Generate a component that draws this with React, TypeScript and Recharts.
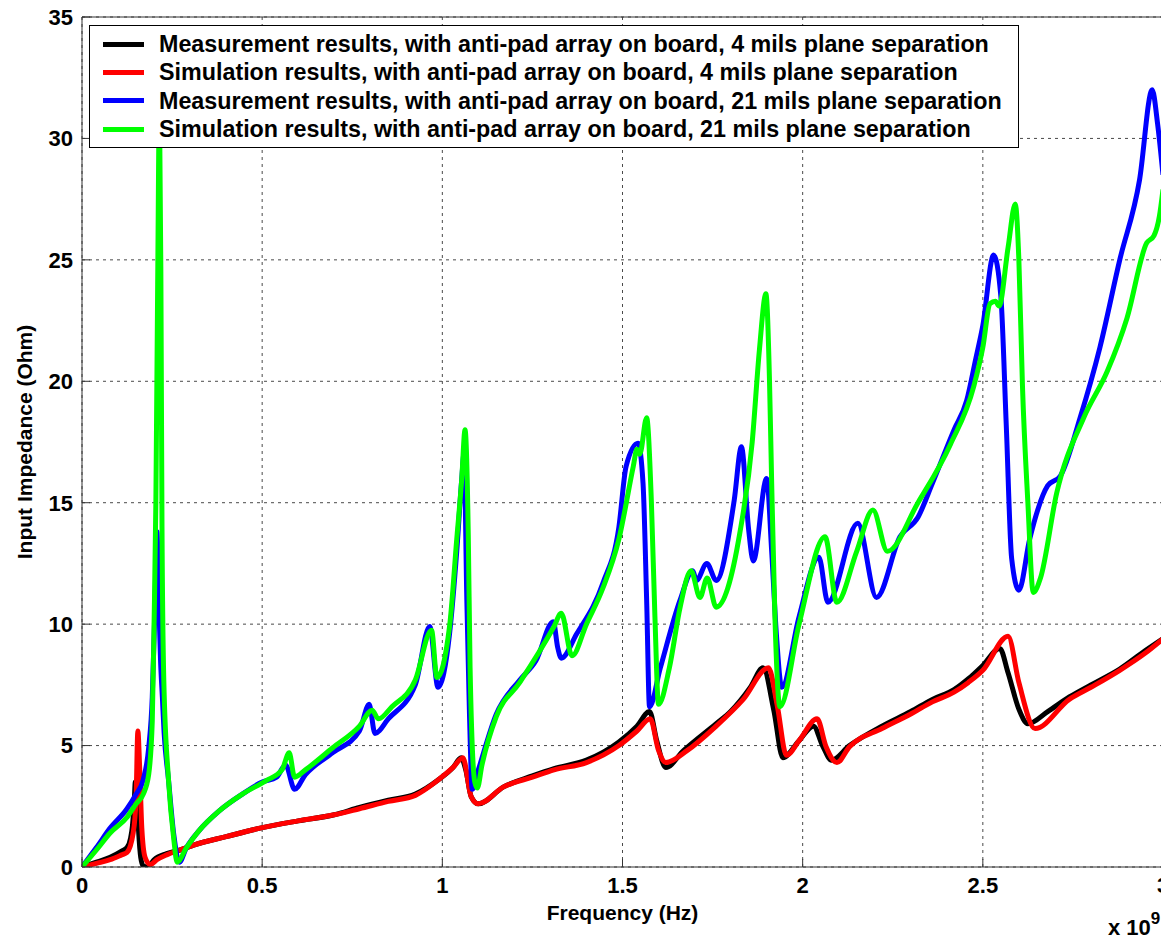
import React from "react";
import {
  LineChart,
  Line,
  XAxis,
  YAxis,
  CartesianGrid,
  Legend,
  Label,
  ReferenceLine,
} from "recharts";

// frequency in units of 1e9 Hz, impedance in Ohm

const meas4Freq = [
  0, 0.04, 0.078, 0.11, 0.125, 0.135, 0.14, 0.145, 0.148, 0.152, 0.157, 0.163, 0.17, 0.18, 0.19, 0.2,
  0.235, 0.272, 0.31, 0.4, 0.494, 0.6, 0.7, 0.77, 0.85, 0.925, 0.99, 1.03, 1.052, 1.065, 1.08, 1.1,
  1.17, 1.25, 1.31, 1.4, 1.49, 1.54, 1.575, 1.595, 1.62, 1.67, 1.76, 1.8, 1.855, 1.89, 1.92, 1.945,
  1.99, 2.03, 2.055, 2.08, 2.13, 2.22, 2.3, 2.36, 2.42, 2.46, 2.5, 2.547, 2.57, 2.6, 2.625, 2.68,
  2.74, 2.8, 2.88, 2.95, 3.0,
];
const meas4Z = [
  0, 0.2, 0.4, 0.65, 0.8, 1.2, 1.7, 2.7, 3.5, 3.0, 1.5, 0.4, 0.05, 0.0, 0.1, 0.3,
  0.55, 0.7, 0.9, 1.25, 1.6, 1.9, 2.15, 2.45, 2.75, 3.0, 3.6, 4.1, 4.5, 4.0, 2.9, 2.6,
  3.3, 3.75, 4.05, 4.4, 5.15, 5.8, 6.4, 5.2, 4.1, 4.8, 5.9, 6.4, 7.4, 8.2, 6.45, 4.5,
  5.2, 5.8, 5.0, 4.4, 5.0, 5.8, 6.4, 6.9, 7.3, 7.75, 8.3, 9.0, 8.0, 6.5, 5.9, 6.4,
  7.0, 7.5, 8.15, 8.9, 9.4,
];

const sim4Freq = [
  0, 0.04, 0.078, 0.11, 0.125, 0.142, 0.15, 0.155, 0.16, 0.166, 0.175, 0.189, 0.208, 0.235, 0.272, 0.31,
  0.4, 0.494, 0.6, 0.7, 0.77, 0.85, 0.925, 0.99, 1.03, 1.057, 1.08, 1.1, 1.17, 1.25, 1.31, 1.4,
  1.49, 1.54, 1.577, 1.6, 1.62, 1.68, 1.76, 1.835, 1.905, 1.93, 1.955, 1.99, 2.04, 2.065, 2.095, 2.13,
  2.22, 2.3, 2.36, 2.42, 2.46, 2.5, 2.57, 2.6, 2.645, 2.74, 2.8, 2.88, 2.95, 3.0,
];
const sim4Z = [
  0, 0.15, 0.3, 0.5, 0.6, 1.4, 2.8, 5.6, 4.1, 1.6, 0.4, 0.1, 0.3, 0.5, 0.7, 0.9,
  1.25, 1.6, 1.9, 2.15, 2.4, 2.7, 2.95, 3.6, 4.1, 4.5, 2.9, 2.6, 3.3, 3.7, 4.0, 4.3,
  5.0, 5.6, 6.1, 4.8, 4.3, 4.8, 5.8, 6.9, 8.2, 6.6, 4.6, 5.2, 6.1, 4.95, 4.3, 4.95,
  5.7, 6.3, 6.8, 7.2, 7.6, 8.1, 9.5, 7.6, 5.7, 6.9, 7.4, 8.1, 8.8, 9.4,
];

const meas21Freq = [
  0, 0.04, 0.078, 0.125, 0.15, 0.17, 0.185, 0.195, 0.202, 0.208, 0.213, 0.218, 0.223, 0.228, 0.24, 0.255,
  0.27, 0.29, 0.325, 0.38, 0.445, 0.5, 0.54, 0.565, 0.59, 0.62, 0.695, 0.77, 0.797, 0.813, 0.85, 0.925,
  0.965, 0.988, 1.02, 1.04, 1.054, 1.06, 1.068, 1.075, 1.083, 1.1, 1.15, 1.215, 1.26, 1.308, 1.32, 1.33,
  1.373, 1.446, 1.49, 1.51, 1.543, 1.557, 1.567, 1.575, 1.605, 1.66, 1.695, 1.705, 1.734, 1.76, 1.81, 1.83,
  1.85, 1.863, 1.9, 1.914, 1.927, 1.942, 1.99, 2.045, 2.07, 2.153, 2.205, 2.27, 2.32, 2.36, 2.42, 2.455,
  2.48, 2.5, 2.53, 2.55, 2.565, 2.58, 2.6, 2.63, 2.68, 2.715, 2.77, 2.825, 2.88, 2.935, 2.97, 2.985, 3.0,
];
const meas21Z = [
  0, 0.8, 1.6, 2.4, 3.0, 3.6, 4.9, 7.0, 10.5, 13.8, 11, 8.5, 7, 5.5, 3.6, 1.3,
  0.2, 0.8, 1.5, 2.3, 3.0, 3.5, 3.7, 4.2, 3.2, 3.8, 4.7, 5.6, 6.7, 5.5, 6.1, 7.5,
  9.9, 7.4, 9.6, 13.0, 16.0, 17.0, 11, 6.5, 3.2, 4.0, 6.3, 7.7, 8.5, 10.1, 9.05, 8.6,
  9.6, 11.7, 14.0, 16.5, 17.45, 15.8, 11.0, 6.6, 8.2, 11.0, 12.2, 11.8, 12.5, 11.8, 15.1, 17.3,
  13.9, 12.6, 16.0, 13.0, 9.6, 7.4, 10.3, 12.75, 10.9, 14.15, 11.1, 13.6, 14.4, 15.8, 18.0, 19.2,
  20.9, 22.3, 25.2, 23.5, 18.2, 12.7, 11.4, 13.5, 15.7, 16.1, 18.5, 21.4, 25.0, 28.3, 32.0, 30.6, 28.5,
];

const sim21Freq = [
  0, 0.04, 0.078, 0.125, 0.15, 0.17, 0.185, 0.195, 0.2, 0.205, 0.21, 0.215, 0.219, 0.222, 0.227, 0.24,
  0.255, 0.264, 0.29, 0.325, 0.38, 0.445, 0.51, 0.555, 0.575, 0.59, 0.62, 0.695, 0.77, 0.805, 0.823, 0.86,
  0.925, 0.97, 0.985, 1.02, 1.04, 1.054, 1.063, 1.072, 1.077, 1.09, 1.097, 1.11, 1.15, 1.215, 1.31, 1.33,
  1.36, 1.4, 1.446, 1.49, 1.53, 1.54, 1.548, 1.567, 1.58, 1.59, 1.6, 1.63, 1.66, 1.69, 1.715, 1.735,
  1.76, 1.825, 1.86, 1.88, 1.898, 1.908, 1.914, 1.923, 1.937, 1.99, 2.062, 2.095, 2.15, 2.195, 2.235, 2.32,
  2.41, 2.475, 2.5, 2.52, 2.535, 2.545, 2.57, 2.59, 2.6, 2.61, 2.625, 2.64, 2.66, 2.705, 2.78, 2.845,
  2.9, 2.955, 2.975, 2.99, 3.0,
];
const sim21Z = [
  0, 0.7, 1.4, 2.05, 2.6, 3.0, 3.8, 6.0, 10, 15, 24, 31.5, 24, 14, 7.7, 3.6,
  1.1, 0.2, 0.8, 1.5, 2.3, 3.0, 3.55, 4.0, 4.7, 3.7, 4.0, 4.9, 5.8, 6.45, 6.1, 6.6,
  7.7, 9.75, 7.8, 9.9, 13.5, 16.0, 18.0, 13.7, 8.2, 3.5, 3.25, 4.2, 6.2, 7.6, 9.9, 10.45,
  8.7, 10.0, 11.5, 13.5, 16.5, 17.2, 17.0, 18.5, 15.1, 10.3, 6.7, 8.2, 10.7, 12.2, 11.1, 11.9,
  10.7, 13.7, 17.5, 21.3, 23.6, 20, 15.8, 10.3, 6.6, 10.0, 13.6, 10.9, 13.0, 14.7, 13.0, 15.0,
  17.4, 19.8, 21.4, 23.2, 23.3, 23.1, 25.5, 27.3, 25, 19.8, 15, 11.3, 11.9, 15.4, 18.5, 20.4,
  22.6, 25.7, 26.0, 26.8, 27.9,
];

const seriesNames = [
  "Measurement results, with anti-pad array on board, 4 mils plane separation",
  "Simulation results, with anti-pad array on board, 4 mils plane separation",
  "Measurement results, with anti-pad array on board, 21 mils plane separation",
  "Simulation results, with anti-pad array on board, 21 mils plane separation",
];
const seriesColors = ["#000000", "#ff0000", "#0000ff", "#00ff00"];

const xTicks = [0, 0.5, 1, 1.5, 2, 2.5, 3];
const yTicks = [0, 5, 10, 15, 20, 25, 30, 35];

const toPoints = (f: number[], z: number[]) => f.map((x, i) => ({ f: x, z: z[i] }));

const series = [
  toPoints(meas4Freq, meas4Z),
  toPoints(sim4Freq, sim4Z),
  toPoints(meas21Freq, meas21Z),
  toPoints(sim21Freq, sim21Z),
];

const FONT = '"Liberation Sans", Arial, Helvetica, sans-serif';
const tickStyle = { fontSize: 22, fontWeight: 700, fill: "#000", fontFamily: FONT };

function LegendBox() {
  return (
    <div
      style={{
        background: "#fff",
        border: "1px solid #000",
        padding: "4px 0",
        fontFamily: FONT,
        fontWeight: 700,
        fontSize: 23.3,
        color: "#000",
        boxSizing: "border-box",
        width: 930,
      }}
    >
      {seriesNames.map((name, i) => (
        <div key={name} style={{ display: "flex", alignItems: "center", height: 28.3 }}>
          <span
            style={{
              display: "inline-block",
              width: 41,
              height: 5,
              background: seriesColors[i],
              marginLeft: 13,
              marginRight: 15,
            }}
          />
          <span style={{ whiteSpace: "nowrap", lineHeight: "28px" }}>{name}</span>
        </div>
      ))}
    </div>
  );
}

function ExponentLabel(props: any) {
  const vb = props.viewBox || {};
  const right = vb.x + vb.width;
  return (
    <text x={right - 55} y={935} style={{ ...tickStyle }} textAnchor="start">
      x 10
      <tspan dy={-11} fontSize={17}>
        9
      </tspan>
    </text>
  );
}

export default function App() {
  return (
    <div
      style={{
        position: "absolute",
        left: 0,
        top: 0,
        width: 1161,
        height: 936,
        overflow: "hidden",
        background: "#fff",
      }}
    >
      <LineChart width={1180} height={936} margin={{ top: 17, right: 17, bottom: 0, left: 0 }}>
        <CartesianGrid stroke="#4a4a4a" strokeDasharray="3 4" strokeWidth={1} />
        <XAxis
          dataKey="f"
          type="number"
          domain={[0, 3]}
          ticks={xTicks}
          allowDataOverflow
          height={69}
          tick={tickStyle}
          tickSize={-8}
          tickMargin={18}
          tickLine={{ stroke: "#333" }}
          axisLine={{ stroke: "#333" }}
          interval={0}
        >
          <Label
            value="Frequency (Hz)"
            position="insideBottom"
            offset={16}
            style={{ fontSize: 21, fontWeight: 700, fill: "#000", fontFamily: FONT }}
          />
          <Label content={ExponentLabel} />
        </XAxis>
        <YAxis
          type="number"
          domain={[0, 35]}
          ticks={yTicks}
          allowDataOverflow
          width={82}
          tick={tickStyle}
          tickSize={-8}
          tickMargin={17}
          tickLine={{ stroke: "#333" }}
          axisLine={{ stroke: "#333" }}
          interval={0}
        >
          <Label
            value="Input Impedance (Ohm)"
            angle={-90}
            position="insideLeft"
            offset={25}
            style={{ fontSize: 21, fontWeight: 700, fill: "#000", fontFamily: FONT, textAnchor: "middle" }}
          />
        </YAxis>
        <ReferenceLine y={35} stroke="#333" strokeWidth={1} />
        {series.map((pts, i) => (
          <Line
            key={seriesNames[i]}
            data={pts}
            dataKey="z"
            name={seriesNames[i]}
            type="monotone"
            stroke={seriesColors[i]}
            strokeWidth={5}
            strokeLinejoin="round"
            dot={false}
            activeDot={false}
            isAnimationActive={false}
          />
        ))}
        <Legend
          layout="horizontal"
          verticalAlign="middle"
          align="center"
          content={LegendBox}
          wrapperStyle={{ left: 89, top: 25, width: 930 }}
        />
      </LineChart>
    </div>
  );
}
